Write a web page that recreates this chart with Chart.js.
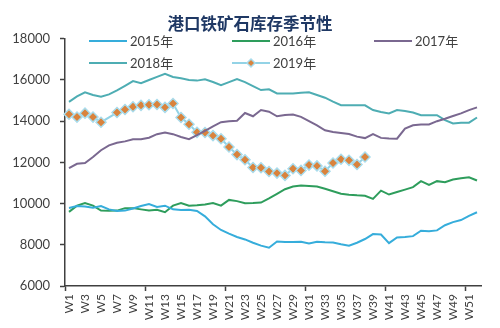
<!DOCTYPE html>
<html>
<head>
<meta charset="utf-8">
<script src="https://cdn.jsdelivr.net/npm/chart.js@4/dist/chart.umd.min.js"></script>
<style>
html,body{margin:0;padding:0;background:#fff;}
#wrap{width:500px;height:328px;position:relative;}
</style>
</head>
<body>
<div id="wrap"><canvas id="c" width="500" height="328"></canvas></div>
<script>
const weeks = [];
for (let i = 1; i <= 52; i++) weeks.push('W' + i);

const seriesNames = ['2015年', '2016年', '2017年', '2018年', '2019年'];

const y2015 = [9790,9880,9860,9800,9880,9720,9640,9660,9760,9880,9980,9840,9900,9720,9690,9700,9640,9380,9000,8720,8540,8380,8260,8100,7960,7860,8160,8130,8140,8150,8060,8150,8120,8110,8030,7960,8100,8280,8520,8500,8080,8360,8380,8420,8680,8660,8700,8950,9100,9200,9400,9580];
const y2016 = [9600,9900,10030,9900,9660,9650,9660,9780,9780,9720,9660,9700,9580,9900,10030,9900,9920,9960,10030,9900,10180,10120,10020,10030,10050,10250,10470,10700,10830,10880,10860,10830,10720,10600,10480,10430,10400,10380,10230,10630,10440,10560,10680,10800,11090,10910,11090,11040,11170,11230,11280,11120];
const y2017 = [11720,11930,11970,12260,12590,12830,12950,13020,13120,13120,13200,13370,13450,13370,13230,13130,13320,13530,13750,13950,14000,14020,14400,14240,14540,14460,14240,14300,14320,14210,14000,13800,13560,13480,13430,13380,13250,13180,13370,13190,13160,13150,13640,13800,13840,13840,14000,14120,14250,14380,14540,14670];
const y2018 = [14940,15200,15400,15270,15190,15300,15500,15720,15950,15840,16000,16150,16300,16150,16080,16000,15970,16030,15900,15750,15900,16050,15900,15700,15510,15550,15350,15350,15350,15380,15400,15270,15140,14950,14780,14780,14780,14770,14540,14450,14380,14540,14500,14420,14290,14290,14290,14050,13890,13920,13930,14180];
const y2019 = [14340,14200,14390,14200,13950,null,14420,14570,14700,14770,14800,14810,14670,14860,14180,13850,13460,13450,13300,13150,12750,12380,12130,11750,11740,11560,11480,11370,11690,11610,11870,11830,11570,11970,12150,12100,11900,12260];

const yTicks = [6000, 8000, 10000, 12000, 14000, 16000, 18000];

const colors = ['#36addb', '#2e9d5c', '#7a6890', '#4eadb3', '#93d3e6'];
const markerFill = '#d9833d';

function ds(i, data, extra) {
  return Object.assign({
    label: seriesNames[i],
    data: data,
    borderColor: colors[i],
    backgroundColor: colors[i],
    borderWidth: 2,
    pointRadius: 0,
    tension: 0,
    fill: false,
    yAxisID: 'y'
  }, extra || {});
}

const datasets = [
  ds(0, y2015),
  ds(1, y2016),
  ds(2, y2017),
  ds(3, y2018),
  ds(4, y2019, {
    pointRadius: 5,
    pointStyle: 'rectRot',
    pointBackgroundColor: markerFill,
    pointBorderColor: '#a9dcec',
    pointBorderWidth: 1.5,
    spanGaps: true,
    borderWidth: 2
  })
];

const FONT = "Lato, 'Noto Sans CJK SC', sans-serif";

const customLegend = {
  id: 'customLegend',
  afterDraw(chart) {
    const ctx = chart.ctx;
    const slots = [[89, 41], [232, 41], [374, 41], [89, 63], [232, 63]];
    ctx.save();
    chart.data.datasets.forEach((d, i) => {
      const [x, y] = slots[i];
      ctx.strokeStyle = d.borderColor;
      ctx.lineWidth = 2;
      ctx.beginPath();
      ctx.moveTo(x, y);
      ctx.lineTo(x + 38, y);
      ctx.stroke();
      if (d.pointStyle === 'rectRot') {
        const cx = x + 19, r = 4;
        ctx.fillStyle = d.pointBackgroundColor;
        ctx.strokeStyle = d.pointBorderColor;
        ctx.lineWidth = 1.5;
        ctx.beginPath();
        ctx.moveTo(cx, y - r); ctx.lineTo(cx + r, y); ctx.lineTo(cx, y + r); ctx.lineTo(cx - r, y);
        ctx.closePath();
        ctx.fill(); ctx.stroke();
      }
      ctx.fillStyle = '#404040';
      ctx.font = "13px " + FONT;
      ctx.textBaseline = 'middle';
      ctx.textAlign = 'left';
      ctx.fillText(d.label, x + 41, y + 1);
    });
    ctx.restore();
  }
};

new Chart(document.getElementById('c'), {
  type: 'line',
  data: { labels: weeks, datasets: datasets },
  plugins: [customLegend],
  options: {
    responsive: false,
    animation: false,
    layout: { padding: { left: 0, right: 0, top: 0, bottom: 0 } },
    plugins: {
      legend: { display: false },
      tooltip: { enabled: false },
      title: {
        display: true,
        text: '港口铁矿石库存季节性',
        color: '#1f3864',
        font: { family: "'Noto Sans CJK SC', sans-serif", size: 16.5, weight: 'bold' },
        padding: { top: 14, bottom: 5 }
      }
    },
    scales: {
      x: {
        type: 'category',
        offset: true,
        grid: {
          offset: true,
          drawOnChartArea: false,
          drawTicks: true,
          tickLength: 5,
          tickWidth: 1.5,
          tickColor: (c) => (c.index % 10 === 0 ? '#404040' : 'rgba(0,0,0,0)')
        },
        border: { display: true, color: '#404040', width: 1.5 },
        ticks: {
          autoSkip: false,
          maxRotation: 90,
          minRotation: 90,
          padding: 3,
          color: '#404040',
          font: { family: FONT, size: 12 },
          callback: function (v, i) { return i % 2 === 0 ? this.getLabelForValue(v) : ''; }
        },
        afterFit: (s) => { s.height = 42; }
      },
      y: {
        position: 'left',
        min: yTicks[0],
        max: yTicks[yTicks.length - 1],
        afterBuildTicks: (s) => { s.ticks = yTicks.map(v => ({ value: v })); },
        grid: {
          drawOnChartArea: false,
          drawTicks: true,
          tickLength: 5,
          tickWidth: 1.5,
          tickColor: '#404040'
        },
        border: { display: true, color: '#404040', width: 1.5 },
        ticks: {
          color: '#404040',
          padding: 10,
          font: { family: FONT, size: 13 },
          callback: (v) => String(v)
        },
        afterFit: (s) => { s.width = 65; }
      },
      yRight: {
        position: 'right',
        min: yTicks[0],
        max: yTicks[yTicks.length - 1],
        grid: { display: false, drawTicks: false },
        border: { display: false },
        ticks: { display: false },
        afterFit: (s) => { s.width = 19; }
      }
    }
  }
});
</script>
</body>
</html>
